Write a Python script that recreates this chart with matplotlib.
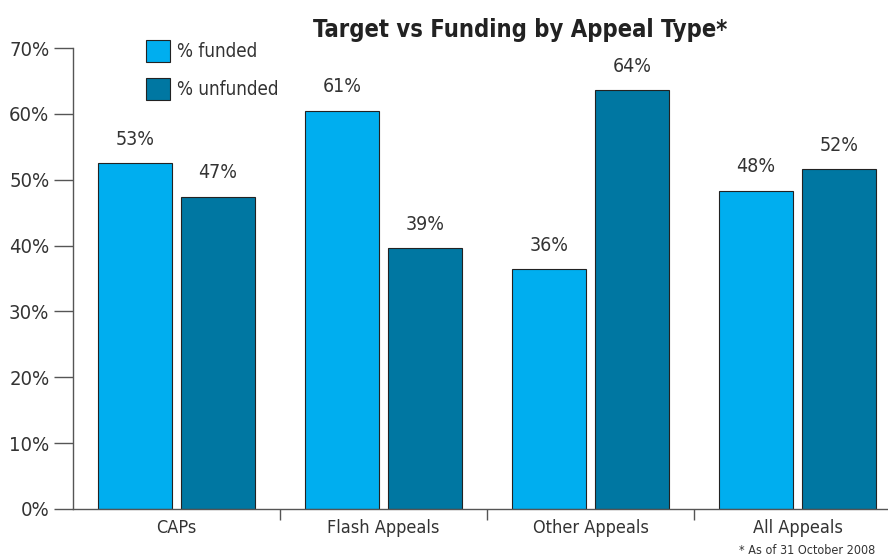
import matplotlib
matplotlib.use("Agg")
import matplotlib.pyplot as plt
import numpy as np

categories = ["CAPs", "Flash Appeals", "Other Appeals", "All Appeals"]
funded = [52.5, 60.5, 36.4, 48.3]
unfunded = [47.4, 39.6, 63.6, 51.6]
funded_lbl = ["53%", "61%", "36%", "48%"]
unfunded_lbl = ["47%", "39%", "64%", "52%"]

c_funded = "#00aeef"
c_unfunded = "#0077a2"
plt.rcParams["font.family"] = ["DejaVu Sans"]
plt.rcParams["font.stretch"] = "condensed"

fig = plt.figure(figsize=(8.88, 5.6), dpi=100)
ax = fig.add_axes([73/888, 51/560, 828/888, 461/560])

x = np.arange(len(categories))
w = 0.36
ax.bar(x - 0.2, funded, w, color=c_funded, edgecolor="#222222", linewidth=0.8, label="% funded")
ax.bar(x + 0.2, unfunded, w, color=c_unfunded, edgecolor="#222222", linewidth=0.8, label="% unfunded")

for i in range(len(x)):
    ax.text(x[i] - 0.2, funded[i] + 2.2, funded_lbl[i], ha="center", va="bottom", fontsize=14, color="#333333")
    ax.text(x[i] + 0.2, unfunded[i] + 2.2, unfunded_lbl[i], ha="center", va="bottom", fontsize=14, color="#333333")

ax.set_xlim(-0.5, 3.5)
ax.set_ylim(0, 70)
ax.set_yticks(np.arange(0, 71, 10))
ax.set_yticklabels([f"{v}%" for v in range(0, 71, 10)], fontsize=14.5, color="#333333")
ax.set_xticks([0.5, 1.5, 2.5])
ax.set_xticklabels([])
ax.set_xticks(x, minor=True)
ax.set_xticklabels(categories, minor=True, fontsize=13, color="#333333")
ax.tick_params(axis="y", length=14, width=1, color="#555555", pad=3)
ax.tick_params(axis="x", which="major", length=8, width=1, color="#555555", direction="out")
ax.tick_params(axis="x", which="minor", length=0, pad=7)
for s in ["top", "right"]:
    ax.spines[s].set_visible(False)
for s in ["left", "bottom"]:
    ax.spines[s].set_color("#555555")
    ax.spines[s].set_linewidth(1)

ax.legend(loc="upper left", bbox_to_anchor=(129/888, 1 - 23/560), bbox_transform=fig.transFigure,
          frameon=False, fontsize=13.5, handlelength=1.3, handleheight=1.4, labelspacing=0.88,
          handletextpad=0.35, labelcolor="#333333")

fig.text(520/888, 1 - 30/560, "Target vs Funding by Appeal Type*", ha="center", va="center",
         fontsize=17, fontweight="bold", color="#222222")
fig.text(875/888, 1 - 551/560, "* As of 31 October 2008", ha="right", va="center", fontsize=9, color="#333333")

fig.savefig("out.png", dpi=100)
